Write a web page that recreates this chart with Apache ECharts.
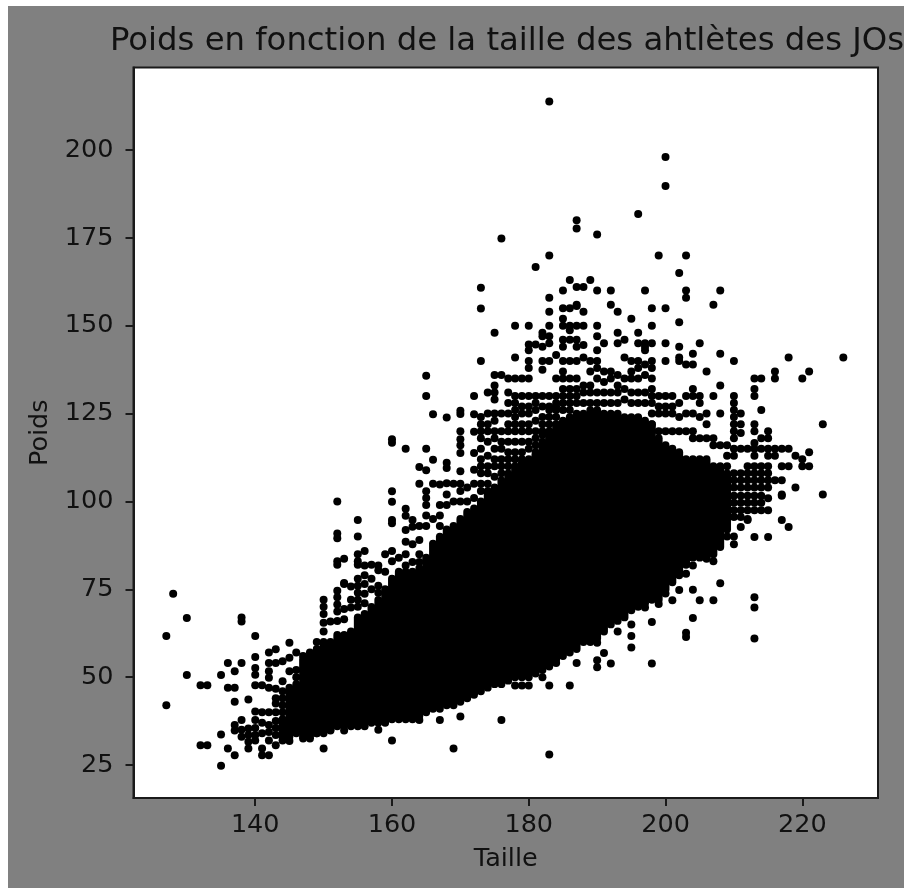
<!DOCTYPE html>
<html><head><meta charset="utf-8">
<script src="https://cdn.jsdelivr.net/npm/echarts@6/dist/echarts.min.js"></script>
<style>html,body{margin:0;padding:0;background:#fff}#c{position:absolute;left:8px;top:6px;width:896px;height:882px}</style>
</head><body><div id="c"></div><script>
const chartTitle = 'Poids en fonction de la taille des ahtlètes des JOs';
const xName = 'Taille', yName = 'Poids';
const xTicks = [140,160,180,200,220];
const yTicks = [25,50,75,100,125,150,175,200];
// Dense cloud: for each height, the weight span where the dots merge into solid black
const coreHeights = [144,145,146,147,148,149,150,151,152,153,154,155,156,157,158,159,160,161,162,163,164,165,166,167,168,169,170,171,172,173,174,175,176,177,178,179,180,181,182,183,184,185,186,187,188,189,190,191,192,193,194,195,196,197,198,199,200,201,202,203,204,205,206,207,208,209];
const coreLow =     [33,33,34,33,33,34,34,35,36,36,36,37,37,37,37,37,38,38,38,38,39,40,41,41,42,42,43,44,45,46,47,48,48,49,50,50,50,51,52,53,55,56,57,58,60,60,61,63,65,66,67,69,70,71,72,72,75,77,79,82,84,84,84,85,87,92];
const coreHigh =    [38,47,48,55,56,58,60,60,62,62,63,67,68,70,72,75,78,80,80,80,81,84,88,90,92,93,95,97,98,100,103,104,106,108,110,111,112,114,116,119,121,123,124,125,125,126,126,125,125,125,124,124,124,123,122,118,116,115,114,112,112,112,112,110,110,108];
// Individual dots outside the solid cloud
const dotHeights = [127,128,130,132,133,135,136,137,138,139,140,141,142,143,144,145,146,147,148,149,150,151,152,153,154,155,156,157,158,159,160,161,162,163,164,165,166,167,168,169,170,171,172,173,174,175,176,177,178,179,180,181,182,183,184,185,186,187,188,189,190,191,192,193,194,195,196,197,198,199,200,201,202,203,204,205,206,207,208,209,210,211,212,213,214,215,216,217,218,219,220,221,223,226];
const dotWeights = [
[42,61.7],[73.7],[66.8,50.6],[47.7,30.6],[47.7,30.6],[50.6,33.7,24.8],[54,47,29.7],[51.7,47,43,36.4,34.8,27.8],[67,65.8,54,37.8,35,33],[43.6,35.4,33.5,31.6,29.7],
[61.7,55.7,52.6,50.7,47.7,40.2,37.8,35.5,33.5,32],[47.7,40,37,34,29.7,27.8],[57,54,51.7,49.8,47,40,36.4,34.4,32,27.8],[57.9,54,46.7,44,42.5,40,37.5,35.5,33.5,30.6],[54.5,48.8,46,44,42,40,32],
[59.8,55.5,51.7,31.8],[57,52,50],[56,50,32.5],[57,32.5],[60,34],[72,70,68,65.5,63,29.7],[65.8,34.8],[100,90.9,89.5,83,82,74.6,72.7,70.7,68.7,66],[83.7,76.8,76.5,69.4,66.5,34.8],[75.8,72,69.8],
[94.7,90,85,83,82,78,76,74,72,70,36],[85.9,81.8,79,76.5,73.7,71,36],[82,78,75],[81.8,80.4,76,74,35],[85,80],
[117.7,116.7,102.9,99.9,94.7,93.8,85.9,83,32],[84],[115,97.9,95.9,91.9,88.5,85,81.8],[94.7,92.8,87.8,82.8],[109.8,105,93,89,85,82.8,37.8],[135.8,130,115,108.9,102.9,101,99,96,93],[124.8,111.9,105,95],[104.8,99,96,93,37.8],[123.9,111,109.5,105.2,102,99],[105,100,29.7],
[125.8,124.9,120,117.7,116,113.8,108.6,105,103,100,38.8],[104,100],[130,124.8,119.8,113.8,109,105,101],[160.8,154.9,140,124,122,120,118,115,112,110,108,105,103],[131,125,122,120,117,113,110,108,105],[148,136,133,131,129,125,123,120,118,115,112,110,107],
[174.8,136,125,120,117,115,112,110,108,37.8],[135,131,128,125,122,120,117,114,112,110],[150,141,135,130,128,126,124,122,120,117,114,112,47.6],[135,130,127,125,122,120,117,114,112,47.6],[150,144.7,143,140,138,135,130,127,125,122,120,117,115,47.6],
[166.7,144.7,130,128,126,123,120,118,116,113],[148,147,144,140,137.5,130,127,124,122,120,119,117,50],[213.8,170,158,154,150,147,145,140,130,127,126,124,122,120,118,47.6,28],[141.7,135,130,128,127,126,124,122,120,54],
[160,155,152,150,146,144,140,137,135,132,130,128,126],[163,155,150,148.7,146,140,135,132,130,128,126,47.6],[177.7,180,161,156,155.6,150,146,144,140,135,132,130,128,54],[161,154,150,144.5,141,133,131,128],[163,140,137,133,131,128],
[176,160,150,147,143,140,138,135,131,128,59.8,54.8,52.8],[145,137,134,131,128,56.9],[160,156,137,135,131,128,53.9],[154,148,145,136,133,131,128,63],[146,141,135,132,129],[152,140,137,135,131,128,65,61.7,58.4],
[181.8,148,145,140,138,135,131,128],[160,145,144,143,139,136,131,128,69.8],[155,150,145,140,138,135,132,130,128,125,122,120,65.7,53.9],[170,130,127,125,120,70.8],[198,189.8,155,145,140,130,127,125,120,73.8],[130,127,125,120,71.9],
[165,151,144,141,140,128,124,120,81.8,74.8],[170,160,158,139,130,125,120,79.4,62.6,61.4],[142,139,132,130,125,120,118,81.8,74.9,66.8],[145,130,128,124,118,71.9],[137,125,122,118,83.7],[156,130,118,116,83,71.9],[160,142,133,125,116,76.7],[116,113,110,90],
[140,130,128,126,124,122,120,118,115,113,108,106,104,101.6,99.6,97.5,95.6,90,87.8],[125,122,119.5,115,108,106,104,101.6,99.6,97.5,95.6,92.7],[115,110,108,106,104,101.6,99.6,97.5,95,94.7],[135,132,130,122,120,116.6,115,113,110,108,106,104,101.6,99.6,97.5,89.9,72.7,69.8,61],[135,126,118,115,110,108,106,104,101.6,99.6,97.5],[120,118,115,113,110,108,106,104,100.9,97.5,89.9],[137,135,115,113,106],[115,110,106,102,101.6,94.7],[141,115,110,92.7],[113,104],[135,112,110],[137,114,110],[122,102],[141]
];
const coreData = coreHeights.map((h,i)=>[h,coreLow[i],coreHigh[i]]);
const dotData = [];
dotHeights.forEach((h,i)=>dotWeights[i].forEach(w=>dotData.push([h,w])));
const ink = '#1a1a1a';
const chart = echarts.init(document.getElementById('c'),null,{renderer:'canvas'});
chart.setOption({
  animation:false,
  backgroundColor:'#808080',
  title:{text:chartTitle,left:494,top:15,textAlign:'center',textStyle:{fontFamily:'DejaVu Sans',fontSize:32.3,fontWeight:'normal',color:'#111'}},
  grid:{left:125.5,top:61.5,right:26,bottom:90,show:true,backgroundColor:'#fff',borderColor:ink,borderWidth:2},
  xAxis:{type:'value',min:122.2,max:231.07,name:xName,nameLocation:'middle',nameGap:48,
    nameTextStyle:{fontFamily:'DejaVu Sans',fontSize:25.5,color:'#111'},
    axisLine:{show:true,onZero:false,lineStyle:{color:ink,width:2}},
    axisTick:{show:true,length:8,customValues:xTicks,lineStyle:{color:ink,width:2}},
    axisLabel:{customValues:xTicks,margin:14,fontFamily:'DejaVu Sans',fontSize:25.5,color:'#111'},splitLine:{show:false}},
  yAxis:{type:'value',min:15.6,max:223.5,name:yName,nameLocation:'middle',nameGap:80,
    nameTextStyle:{fontFamily:'DejaVu Sans',fontSize:25.5,color:'#111'},
    axisLine:{show:true,onZero:false,lineStyle:{color:ink,width:2}},
    axisTick:{show:true,length:8,customValues:yTicks,lineStyle:{color:ink,width:2}},
    axisLabel:{customValues:yTicks,margin:20,fontFamily:'DejaVu Sans',fontSize:25.5,color:'#111'},splitLine:{show:false}},
  series:[
    {type:'custom',silent:true,data:coreData,encode:{x:0,y:[1,2]},
     renderItem(params,api){
       const a=api.coord([api.value(0),api.value(1)]), b=api.coord([api.value(0),api.value(2)]);
       return {type:'line',shape:{x1:a[0],y1:a[1],x2:b[0],y2:b[1]},style:{stroke:'#000',lineWidth:7.9,lineCap:'round'}};
     }},
    {type:'scatter',silent:true,data:dotData,symbol:'circle',symbolSize:8,itemStyle:{color:'#000',opacity:1}}
  ]
});
</script></body></html>
